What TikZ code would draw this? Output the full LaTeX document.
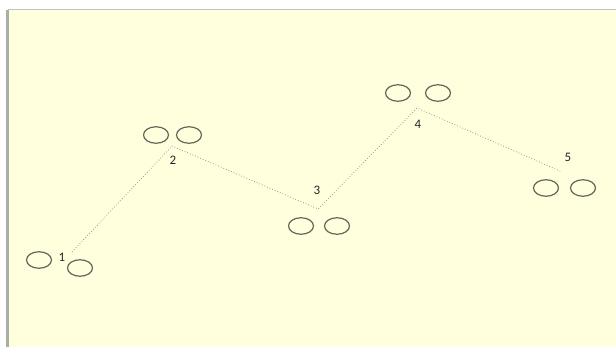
\documentclass[tikz,border=0pt]{standalone}
\usepackage{fontspec}
\setmainfont{Carlito}
\usetikzlibrary{shapes.geometric}
\definecolor{bgyellow}{HTML}{FFFFDE}
\definecolor{ringcol}{HTML}{66665A}
\definecolor{pathcol}{HTML}{9A9A90}
\definecolor{edgecol}{HTML}{A8AEA8}
\begin{document}
\begin{tikzpicture}[x=1pt,y=-1pt,
  ring/.style={draw=ringcol,line width=1.2pt,ellipse,minimum width=25pt,minimum height=16.5pt,inner sep=0pt},
  route/.style={draw=pathcol,line width=0.8pt,dotted},
  num/.style={font=\fontsize{13}{15}\selectfont,text=black!85,inner sep=0pt}]
\useasboundingbox (0,0) rectangle (616,347);
\fill[white] (0,0) rectangle (616,347);
\fill[bgyellow] (8,10) rectangle (616,347);
\draw[edgecol!70,line width=0.6pt] (8,9.5) -- (616,9.5);
\fill[edgecol] (6,10) rectangle (8.5,347);
% vertices of the route
\coordinate (v1) at (72,252);
\coordinate (v2) at (172,146);
\coordinate (v3) at (318,209);
\coordinate (v4) at (417,108);
\coordinate (v5) at (562,172);
\draw[route] (v1) -- (v2) -- (v3) -- (v4) -- (v5);
% labels
\node[num] (l1) at (62,257) {1};
\node[num] (l2) at (173,160) {2};
\node[num] (l3) at (317,190) {3};
\node[num] (l4) at (418,124) {4};
\node[num] (l5) at (568,157) {5};
% rings
\node[ring] (a1) at (39,260) {};
\node[ring] (b1) at (80,268) {};
\node[ring] (a2) at (156,135) {};
\node[ring] (b2) at (189,135) {};
\node[ring] (a3) at (301,226) {};
\node[ring] (b3) at (337,226) {};
\node[ring] (a4) at (398,93) {};
\node[ring] (b4) at (438,93) {};
\node[ring] (a5) at (546,188) {};
\node[ring] (b5) at (583,188) {};
\end{tikzpicture}
\end{document}
